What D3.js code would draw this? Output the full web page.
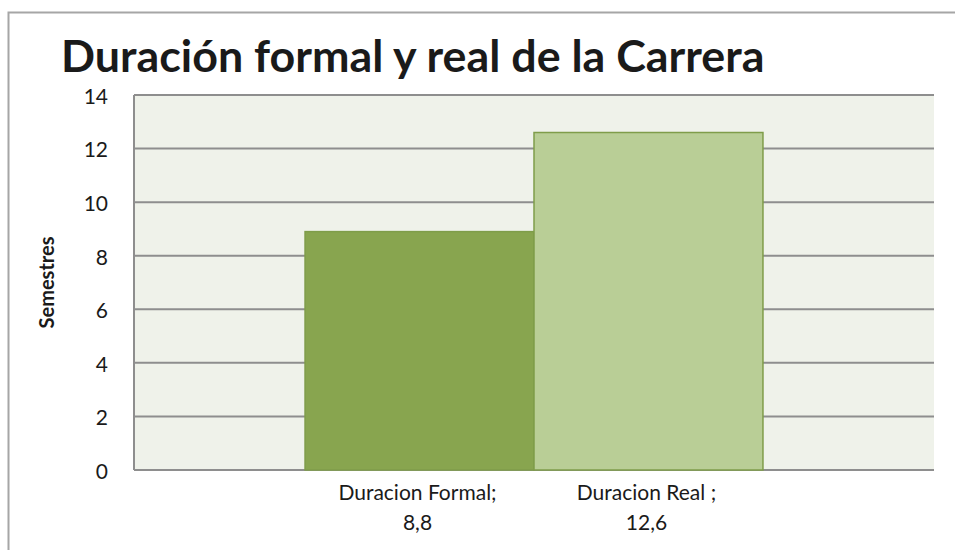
<!DOCTYPE html>
<html>
<head>
<meta charset="utf-8">
<script src="https://cdn.jsdelivr.net/npm/d3@7"></script>
<style>
  body { margin: 0; background: #fff; }
  text { font-family: Lato, "Open Sans", sans-serif; fill: #1a1a1a; }
</style>
</head>
<body>
<div id="chart"></div>
<script>
// data
var categories = ['Duracion Formal', 'Duracion Real'];
var catLabels = [['Duracion Formal;', '8,8'], ['Duracion Real ;', '12,6']];
var values = [8.9, 12.6];
var barColors = ['#88a54f', '#b9ce96'];
var yTicks = [0, 2, 4, 6, 8, 10, 12, 14];

var width = 955, height = 550;
var plot = {left: 134, right: 934, top: 95, bottom: 470};

var svg = d3.select('#chart').append('svg')
  .attr('width', width)
  .attr('height', height);

// outer frame (left + top only, rest is cut off)
svg.append('path')
  .attr('d', 'M8.5,' + height + 'V12.5H' + width)
  .attr('fill', 'none')
  .attr('stroke', '#a6a6a6')
  .attr('stroke-width', 2);

var y = d3.scaleLinear().domain([0, 14]).range([plot.bottom, plot.top]);
var x = d3.scaleBand().domain(categories)
  .range([plot.left, plot.right])
  .paddingInner(0)
  .paddingOuter(0.747);

// plot area background
svg.append('rect')
  .attr('x', plot.left).attr('y', plot.top)
  .attr('width', plot.right - plot.left)
  .attr('height', plot.bottom - plot.top)
  .attr('fill', '#eff2ea');

// gridlines
svg.append('g').selectAll('line').data(yTicks).enter().append('line')
  .attr('x1', plot.left).attr('x2', plot.right)
  .attr('y1', function(d) { return y(d); })
  .attr('y2', function(d) { return y(d); })
  .attr('stroke', '#8e8e8e')
  .attr('stroke-width', 2);

// left edge of plot area
svg.append('line')
  .attr('x1', plot.left).attr('x2', plot.left)
  .attr('y1', plot.top).attr('y2', plot.bottom)
  .attr('stroke', '#8e8e8e')
  .attr('stroke-width', 2);

// bars
svg.append('g').selectAll('rect').data(values).enter().append('rect')
  .attr('x', function(d, i) { return x(categories[i]); })
  .attr('y', function(d) { return y(d); })
  .attr('width', x.bandwidth())
  .attr('height', function(d) { return y(0) - y(d); })
  .attr('fill', function(d, i) { return barColors[i]; })
  .attr('stroke', '#7f9d4a')
  .attr('stroke-width', 1.5);

// y axis labels
var yAxis = d3.axisLeft(y).tickValues(yTicks).tickSize(0).tickPadding(26);
var gy = svg.append('g')
  .attr('transform', 'translate(' + plot.left + ',0)')
  .call(yAxis);
gy.select('.domain').remove();
gy.selectAll('text')
  .style('font-family', 'Lato, "Open Sans", sans-serif')
  .style('font-size', '21px')
  .attr('fill', '#1a1a1a')
  .attr('dy', '0.4em');

// category labels (two lines each)
var cl = svg.append('g').selectAll('text').data(catLabels).enter().append('text')
  .attr('text-anchor', 'middle')
  .style('font-size', '21px');
cl.each(function(lines, i) {
  var t = d3.select(this);
  var cx = x(categories[i]) + x.bandwidth() / 2 - 2;
  lines.forEach(function(s, j) {
    t.append('tspan').attr('x', cx).attr('y', 500 + j * 30).text(s);
  });
});

// y axis title
svg.append('text')
  .attr('transform', 'translate(54,' + ((plot.top + plot.bottom) / 2) + ') rotate(-90)')
  .attr('text-anchor', 'middle')
  .style('font-size', '20px')
  .style('font-weight', 'bold')
  .text('Semestres');

// chart title, fitted to the width it has in the picture
var title = svg.append('text')
  .attr('x', 61).attr('y', 72)
  .style('font-size', '42px')
  .style('font-weight', 'bold')
  .text('Duración formal y real de la Carrera');
var tw = title.node().getComputedTextLength();
title.style('font-size', (42 * 704 / tw).toFixed(1) + 'px');
</script>
</body>
</html>
